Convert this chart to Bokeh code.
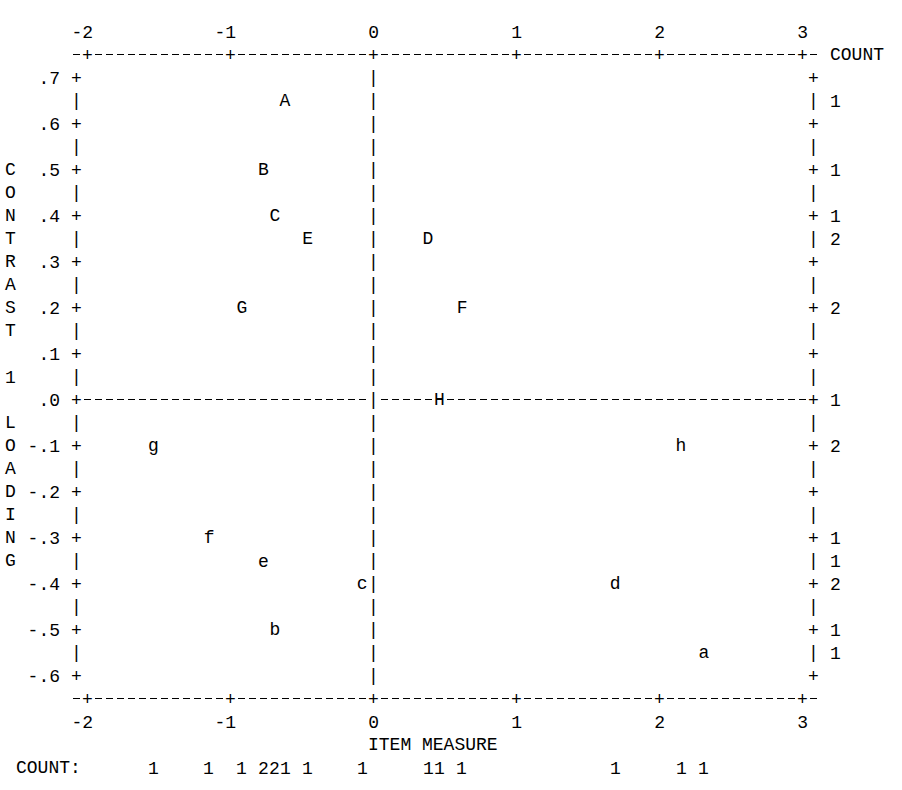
import numpy as np
from bokeh.plotting import figure
from bokeh.models import Range1d, ColumnDataSource
from bokeh.core.properties import value
from bokeh.embed import file_html
from bokeh.resources import INLINE

# ---------------- data ----------------
item_labels = ["A", "B", "C", "D", "E", "F", "G", "H",
               "a", "b", "c", "d", "e", "f", "g", "h"]
item_measure = [-0.62, -0.77, -0.69, 0.38, -0.46, 0.62, -0.92, 0.46,
                2.31, -0.69, -0.08, 1.69, -0.77, -1.15, -1.54, 2.15]
contrast_loading = [0.65, 0.50, 0.40, 0.35, 0.35, 0.20, 0.20, 0.00,
                    -0.55, -0.50, -0.40, -0.40, -0.35, -0.30, -0.10, -0.10]

x_ticks = [-2, -1, 0, 1, 2, 3]
x_tick_labels = ["-2", "-1", "0", "1", "2", "3"]
y_ticks = [0.7, 0.6, 0.5, 0.4, 0.3, 0.2, 0.1, 0.0,
           -0.1, -0.2, -0.3, -0.4, -0.5, -0.6]
y_tick_labels = [".7", ".6", ".5", ".4", ".3", ".2", ".1", ".0",
                 "-.1", "-.2", "-.3", "-.4", "-.5", "-.6"]
y_title = "CONTRAST 1 LOADING"
x_title = "ITEM MEASURE"
count_label_right = "COUNT"
count_label_bottom = "COUNT:"

# ---------------- layout ----------------
W, H = 886, 782
PX_X = 143.0          # px per measure unit
X0 = 373.0            # canvas px of measure 0
PX_Y = 460.0          # px per loading unit
Y_TOP_TICK = 77.0     # canvas px (from top) of first y tick
COL = 1.0 / 13.0      # one character column in measure units
ROW = 0.05            # one text row in loading units
FONT = value("Liberation Mono")
FS = "18px"

x_lo = -X0 / PX_X
x_hi = (W - X0) / PX_X
y_hi = y_ticks[0] + Y_TOP_TICK / PX_Y
y_lo = y_hi - H / PX_Y

p = figure(width=W, height=H, x_range=Range1d(x_lo, x_hi), y_range=Range1d(y_lo, y_hi),
           output_backend="svg", toolbar_location=None, min_border=0,
           x_axis_location=None, y_axis_location=None,
           background_fill_color="white", border_fill_color="white")
p.outline_line_color = None
p.grid.visible = False


def txt(xs, ys, ts, align="center"):
    src = ColumnDataSource(dict(x=list(xs), y=list(ys), t=list(ts)))
    p.text(x="x", y="y", text="t", source=src, text_font=FONT, text_font_size=FS,
           text_align=align, text_baseline="middle", text_color="black")


def dashed(x0, x1, y):
    p.segment(x0=[x0], y0=[y], x1=[x1], y1=[y], line_color="black",
              line_width=1.1, line_dash="7 4")


left_b = x_ticks[0] - COL
right_b = x_ticks[-1] + COL
top_b = y_ticks[0] + ROW
bot_b = y_ticks[-1] - ROW
half_px = 3.5 / PX_X

rows = np.round(np.arange(y_ticks[0], y_ticks[-1] - 1e-9, -ROW), 2)
is_tick = [abs(r * 10 - round(r * 10)) < 1e-6 for r in rows]
border_chars = ["+" if t else "|" for t in is_tick]

# frame borders
txt([left_b] * len(rows), rows, border_chars)
txt([right_b] * len(rows), rows, border_chars)
dashed(left_b - half_px, right_b + half_px, top_b)
dashed(left_b - half_px, right_b + half_px, bot_b)
txt(x_ticks, [top_b] * len(x_ticks), ["+"] * len(x_ticks))
txt(x_ticks, [bot_b] * len(x_ticks), ["+"] * len(x_ticks))

# zero lines
txt([0] * len(rows), rows, ["|"] * len(rows))
dashed(left_b + COL - half_px, -COL + half_px, 0.0)
dashed(COL - half_px, right_b - COL + half_px, 0.0)

# tick labels
txt([t + COL / 2 for t in x_ticks], [top_b + ROW] * len(x_ticks), x_tick_labels, "right")
txt([t + COL / 2 for t in x_ticks], [bot_b - ROW] * len(x_ticks), x_tick_labels, "right")
txt([x_ticks[0] - 2.5 * COL] * len(y_ticks), y_ticks, y_tick_labels, "right")

# titles
title_rows = [0.5 - i * ROW for i in range(len(y_title))]
txt([x_ticks[0] - 7 * COL] * len(y_title), title_rows, list(y_title))
txt([-COL / 2], [bot_b - 2 * ROW], [x_title], "left")
txt([right_b + 1.5 * COL], [top_b], [count_label_right], "left")
txt([x_ticks[0] - 6.5 * COL], [bot_b - 3 * ROW], [count_label_bottom], "left")

# items
txt(item_measure, contrast_loading, item_labels)

# counts per row (right side)
row_counts = {}
for l in contrast_loading:
    k = int(round(l / ROW))
    row_counts[k] = row_counts.get(k, 0) + 1
rk = sorted(row_counts)
txt([right_b + 2 * COL] * len(rk), [k * ROW for k in rk], [str(row_counts[k]) for k in rk])

# counts per column (bottom)
col_counts = {}
for m in item_measure:
    k = int(round(m / COL))
    col_counts[k] = col_counts.get(k, 0) + 1
ck = sorted(col_counts)
txt([k * COL for k in ck], [bot_b - 3 * ROW] * len(ck), [str(col_counts[k]) for k in ck])

open("out.html", "w").write(file_html(p, INLINE))
